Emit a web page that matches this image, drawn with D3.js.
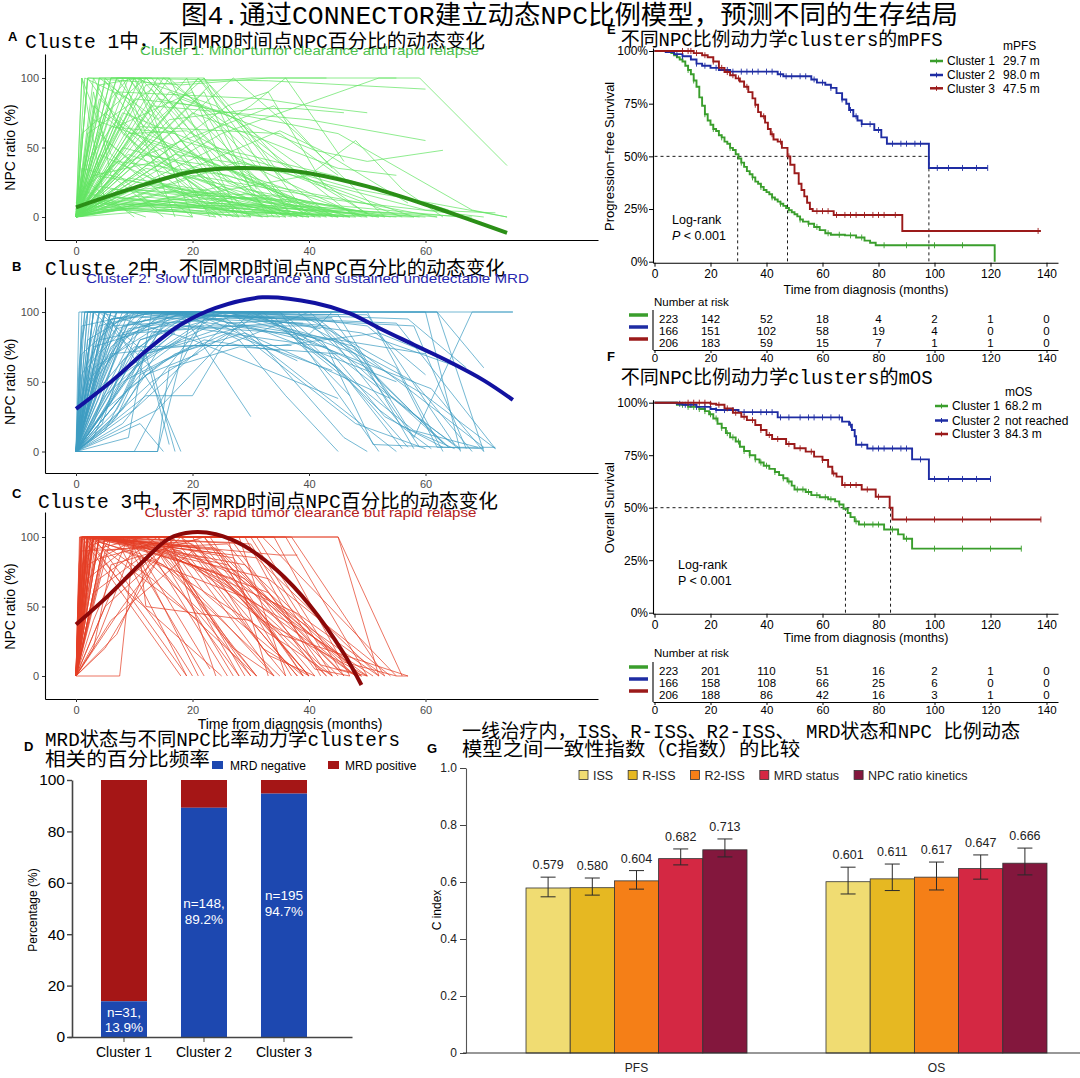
<!DOCTYPE html>
<html><head><meta charset="utf-8">
<script src="https://cdn.jsdelivr.net/npm/d3@7"></script>
<style>body{margin:0;background:#fff}svg{display:block}</style>
</head><body>
<svg id="c" width="1080" height="1078"></svg>
<script>
// ================= DATA =================
const mainTitle = "图4.通过CONNECTOR建立动态NPC比例模型，预测不同的生存结局";
const panelTitles = ["Cluste 1中，不同MRD时间点NPC百分比的动态变化","Cluste 2中，不同MRD时间点NPC百分比的动态变化","Cluste 3中，不同MRD时间点NPC百分比的动态变化"];
const panelSubtitles = ["Cluster 1: Minor tumor clearance and rapid relapse","Cluster 2: Slow tumor clearance and sustained undetectable MRD","Cluster 3: rapid tumor clearance but rapid relapse"];
const spagXTicks = [0,20,40,60];
const spagYTicks = [0,50,100];

// trajectories: flat [t,v,t,v,...] (months, NPC %)
const trajA = [
 [0,0,2,100,10,100,20,0],[0,0,3,100,8,60,25,0],[0,0,5,98,15,40,30,0],[0,0,6,100,22,100,40,0],
 [0,0,1,60,12,100,35,5],[0,5,4,85,18,30,28,0],[0,0,8,100,12,60,45,0],[0,0,10,100,24,80,50,2],
 [0,0,2,100,18,95,33,100,55,100],[0,0,7,90,32,85,40,80,50,75],[0,0,12,95,30,100,43,100],
 [0,0,15,100,38,30,58,0],[0,0,3,70,20,45,44,0],[0,0,5,55,16,20,38,0],[0,10,9,75,26,15,52,0],
 [0,0,11,65,35,60,45,30],[0,0,13,80,40,70,60,55],[0,0,4,45,22,10,40,0],[0,0,6,35,14,5,30,0],
 [0,0,2,25,10,0],[0,0,8,50,30,25,62,0],[0,0,16,90,41,48,50,40,63,48],[0,0,20,75,45,35,55,30],
 [0,0,6,100,33,98,60,92],[0,0,14,85,45,60,68,5,74,0],[0,0,25,60,52,100,59,100,74,37],
 [0,0,18,55,48,20,74,0],[0,0,9,40,34,80,44,35],[0,0,10,100,28,0],[0,0,3,90,6,30,15,0],
 [0,0,5,75,27,0],[0,0,7,65,20,90,33,0],[0,0,12,55,50,0],[0,0,19,100,25,40,36,0],
 [0,0,22,90,30,20,42,0],[0,0,27,100,38,60,53,0],[0,0,30,80,36,100,46,40],[0,0,8,20,20,12,45,0],
 [0,3,10,15,30,8,55,0],[0,0,15,18,40,10,66,0],[0,0,5,12,25,5,48,0],[0,0,2,8,20,3,35,0],
 [0,2,12,25,40,5,60,0],[0,0,6,20,35,15,50,3],[0,0,20,30,45,12,70,0],[0,0,4,15,18,10,30,2],
 [0,0,9,28,24,18,39,0],[0,0,1,100,5,10,12,0],[0,0,1.5,100,9,85,17,0],[0,0,4,100,14,70,22,100,31,20],
 [0,0,11,100,17,30,26,0],[0,0,35,62,42,48,57,10],[0,0,40,30,48,55,56,20,63,0],
 [0,0,16,70,31,78,38,78,46,75],[0,0,3,50,7,100,15,55,23,0],[0,0,13,60,21,100,29,55,37,0],
 [0,0,17,45,34,35,56,0],[0,0,24,50,44,30,64,5],[0,0,28,40,60,5,72,3],[0,0,3,10,15,8,28,0],
 [0,0,7,14,22,6,42,0],[0,0,14,12,32,14,46,0],[0,0,5,5,40,2,58,0],[0,1,18,20,30,10,44,2],
 [0,0,25,22,37,8,52,0],[0,0,10,10,50,4,68,0],[0,0,2,18,8,6,20,0],[0,0,4,95,11,100,19,65,34,0],
 [0,0,6,85,9,100,16,100,27,10],[0,0,2,60,13,92,24,30,41,0],[0,4,7,40,26,30,47,0],
 [0,0,9,60,19,62,31,35,49,0],[0,0,12,35,29,20,54,0],[0,0,1,35,23,12,50,1],[0,0,3,30,33,10,62,0],
 [0,0,1,100,6,45,20,0],[0,0,2,100,12,40,24,0],[0,0,4,100,9,100,21,30,32,0],[0,0,5,100,16,50,29,0],
 [0,0,7,100,13,100,26,25,39,0],[0,0,9,100,19,50,35,0],[0,0,3,80,11,50,27,5],[0,0,6,65,17,60,30,0],
 [0,0,8,75,23,50,40,0],[0,0,10,85,21,80,37,10],[0,0,12,100,25,45,41,0],[0,0,14,100,20,75,34,15,47,0],
 [0,0,16,100,29,50,44,0],[0,0,18,85,28,70,36,25],[0,0,21,100,31,55,48,0],[0,0,23,95,35,40,51,0],
 [0,0,26,80,33,90,43,20],[0,0,2,40,7,70,19,35,36,0],[0,0,4,60,12,30,25,0],[0,0,1,20,9,45,22,25,38,0],
 [0,0,3,30,14,40,28,15,45,0],[0,0,11,45,26,35,43,0],[0,0,6,8,28,6,40,0],[0,1,9,6,35,3,47,0],
 [0,0,13,9,33,5,50,0],[0,0,17,11,27,4,36,0],[0,2,4,22,16,14,32,0],[0,0,19,16,38,12,53,0],
 [0,0,8,12,42,7,59,0],[0,0,21,7,29,17,45,4],[0,0,1,12,11,9,24,0],[0,0,3,16,20,9,33,0],
 [0,0,5,9,31,8,43,0],[0,0,7,18,16,22,37,0],[0,0,10,20,27,11,41,1],[0,0,2,5,24,8,39,2]
];
const trajB = [
 [0,0,1,100,75,100],[0,0,2,100,40,95,55,60,62,3,72,3],[0,0,3,100,30,100,50,60,58,2],
 [0,0,4,100,20,80,45,38],[0,0,5,100,35,100,52,0],[0,0,6,90,25,95,48,20,60,2],
 [0,0,7,100,18,100,30,25],[0,0,8,80,14,95,40,100,70,3],[0,0,9,70,20,100,38,65],
 [0,0,10,60,25,100,42,88],[0,0,11,55,22,80,35,72],[0,0,12,40,20,40,25,75,40,100],
 [0,0,13,50,32,100,47,50,56,2],[0,0,14,0,16,60,28,75,45,70],[0,0,2,30,6,100,50,100,63,0],
 [0,0,3,50,12,100,58,90,67,2],[0,0,1,70,9,100,44,95,54,40,66,1],[0,0,4,60,15,100,30,90,60,70],
 [0,0,5,40,18,90,36,85,61,45,70,0],[0,0,2,80,10,100,27,100,46,10,50,0],
 [0,0,3,20,8,85,19,100,33,85,55,50],[0,0,6,50,24,100,42,80,53,25,63,3],
 [0,0,7,30,16,100,37,92,49,85,66,60],[0,0,8,20,21,88,34,80,43,75,51,5,70,2],
 [0,0,9,10,13,100,25,98,55,0],[0,0,10,30,26,92,41,95,64,3],[0,0,11,20,15,0],
 [0,0,3,100,13,60,17,0],[0,0,5,100,14,40,18,0],[0,0,4,100,12,70,16,5],[0,0,2,100,50,98,65,5],
 [0,0,1,90,12,100,62,100,70,0],[0,0,3,75,22,100,57,95,67,60],[0,0,6,70,20,76,35,76,52,85,62,68],
 [0,0,8,50,20,76,37,76],[0,0,10,85,35,92,47,40],[0,0,12,70,29,90,39,80,44,100],
 [0,0,14,30,30,100,50,90,60,55],[0,0,15,90,40,90,58,50,68,0],[0,0,3,100,45,98,58,10,68,100,75,100],
 [0,0,1,40,5,100,62,100,70,60],[0,0,2,60,9,100,55,92,72,2],[0,0,4,80,26,100,48,75,52,50],
 [0,0,6,100,31,100,45,60,57,3],[0,0,7,100,38,100,62,10,64,3],[0,0,0.5,100,60,100,66,0],
 [0,0,9,100,44,80,60,40,72,2],[0,0,1,20,3,100,35,100,60,20,66,2],[0,0,1.5,100,20,100],
 [0,0,2.5,100,15,100,30,100],[0,0,5,60,10,100,25,95],[0,0,7,50,11,90,23,100],[0,0,8,40,13,85,22,90],
 [0,0,3,40,10,75,24,76],[0,0,14,0,20,100,33,100],[0,0,10,0,22,95,39,92],[0,0,4,25,9,60,17,85],
 [0,0,6,20,12,55,21,70],[0,0,2,45,7,80,16,96],[0,0,1,25,4,70,11,100],[0,0,5,30,15,65,26,85,44,58],
 [0,0,3,60,18,100,28,80,36,40,45,0],[0,0,9,45,17,70,29,85,54,38],
 [0,0,0.5,60,1.5,100,10,100],[0,0,1,80,2,100,12,100],[0,0,2,70,4,100,14,100],[0,0,3,80,5,100,16,100],
 [0,0,4,75,6,100,18,100],[0,0,5,85,7,100,20,100],[0,0,6,80,8,100,22,100],[0,0,1,55,6,95,15,100],
 [0,0,2,30,8,90,18,100],[0,0,4,45,9,92,19,98],[0,0,6,35,11,80,24,96],[0,0,7,25,12,70,26,90],
 [0,0,3,10,7,50,14,88],[0,0,5,15,10,55,18,80],[0,0,8,30,14,72,27,98,44,96],
 [0,0,2,50,11,96,30,98,48,70,59,3],[0,0,4,90,13,100,36,95,52,30,61,2],[0,0,6,95,16,98,41,96,56,18,65,2],
 [0,0,9,88,21,95,34,96,58,15,69,3],[0,0,11,80,23,98,43,90,63,6],[0,0,1.5,40,5,90,13,100],
 [0,0,2.5,35,6,75,12,95],[0,0,3.5,55,7,88,17,100],[0,0,4.5,20,8,65,16,92]
];
const trajC = [
 [0,0,1,100,45,100,52,0],[0,0,1.5,100,20,95,40,0],[0,0,2,100,15,80,35,0],[0,0,2.5,100,10,100,30,0],
 [0,0,3,100,25,90,45,5,50,0],[0,0,1,80,4,100,18,100,38,0],[0,0,2,90,12,100,28,60,40,0],
 [0,0,3,95,8,100,22,0],[0,0,4,100,16,100,24,0],[0,0,5,100,30,100,42,20,48,0],
 [0,0,7.5,0,10,100,26,100,33,0],[0,0,3,60,11,85,12,50,30,40,38,0],[0,0,1.5,100,35,87,38,87],
 [0,0,2,100,32,100,55,0],[0,0,4,70,14,100,35,30,57,0],[0,0,5,50,18,100,45,20,52,0],
 [0,0,6,40,20,90,32,40,50,0],[0,0,2,100,19,0],[0,0,3,100,17,20,20,0],[0,0,1,100,14,90,27,0],
 [0,0,2,100,22,85,44,0],[0,0,3,100,26,80,46,10,55,0,57,0],[0,0,4,100,28,100,36,0],
 [0,0,5,90,21,98,41,0],[0,0,6,100,12,100,34,0],[0,0,1,50,3,100,24,75,43,0],
 [0,0,2,70,8,90,30,55,48,0],[0,0,3,40,9,100,38,45,53,0],[0,0,4,30,10,95,33,60,49,0],
 [0,0,5,20,15,90,40,30,51,0],[0,0,1,100,29,100,42,0],[0,0,2,100,36,100,50,0],
 [0,0,2.5,100,34,100,47,0],[0,0,1.5,100,9,60,25,0],[0,0,3,100,13,70,31,0],
 [0,0,4,100,40,100,45,100,56,0],[0,0,6,60,16,95,22,60,39,0],[0,0,7,30,13,85,37,20,44,0],
 [0,0,8,50,17,100,31,100,46,0],[0,0,1,90,26,95,35,50,48,0],[0,0,2,80,11,100,37,100,53,0],
 [0,0,3,100,23,100,39,0],[0,0,1,100,18,0],[0,0,2,100,21,40,28,0],[0,0,5,100,27,70,50,0],
 [0,0,0.5,60,2,100,15,100,29,0],[0,0,1,70,3,100,20,100,32,20,40,0],[0,0,0.5,30,1.5,100,12,95,26,0],
 [0,0,0.8,100,4,100,16,85,30,0],[0,5,1,100,30,95,44,0],[0,0,1.2,100,24,92,37,0],
 [0,0,2.2,100,27,96,42,8,49,0],[0,0,3.5,100,19,94,33,15,41,0],[0,0,4.5,85,14,96,29,70,45,0],
 [0,0,0.7,100,11,88,23,40,31,0],[0,0,1.8,100,31,85,52,0],[0,0,3,20,6,80,22,100,43,0],
 [0,0,0.3,50,1,100,9,100,21,0],[0,0,0.5,80,1.2,100,13,96,31,0],[0,0,0.8,60,2,100,17,98,36,0],
 [0,0,1,40,2.5,100,25,88,46,0],[0,0,1.3,70,3,100,21,92,40,0],[0,0,1.6,90,3.5,100,29,80,49,0],
 [0,0,2,60,4,100,33,70,54,0],[0,0,2.5,50,5,100,16,90,28,0],[0,0,3,80,6,100,27,85,41,5,47,0],
 [0,0,0.6,100,7,98,19,0],[0,0,1.4,100,10,95,23,5],[0,0,2.8,100,18,90,34,0],[0,0,0.9,100,22,100,39,0],
 [0,0,1.9,100,14,100,27,20,34,0]
];
const smoothA = [[0,7],[10,21],[20,32.5],[28,35.2],[35,34],[40,31.5],[50,22],[60,9],[66,0.5],[74,-11.5]];
const smoothB = [[0,30.5],[6,50],[12,72],[18,91],[24,103],[32,110.5],[41,106.5],[47,99],[52,88.5],[58,76.5],[64,64.5],[70,51],[75,37]];
const smoothC = [[0,37],[5.6,58],[11.4,82],[16,99],[20,103.5],[24,102],[28.7,94],[34.5,76],[40.3,50],[46,16],[49,-6.5]];

// Kaplan-Meier step breakpoints [month, survival %]
const pfs1 = [[0,100],[5,100],[6,99],[7,98],[8,97],[9,96],[10,95],[11,93],[12,91],[13,89],[14,86],[15,83],[16,78],[17,74],[18,70],[19,67],[20,65],[21,63],[22,62],[23,60],[24,59],[25,57],[26,56],[27,54],[28,53],[29,51],[30,49],[31,47],[32,45],[33,43],[34,41.5],[35,40],[36,38],[37,37],[38,35.5],[39,34],[40,33],[41,32],[42,30.5],[43,29.5],[44,28.5],[45,27.5],[46,26.5],[47,25.5],[48,24.5],[49,23.5],[50,22.5],[51,21.5],[52,20],[53,19],[55,18],[57,16.5],[59,15],[61,13.5],[63,12.8],[68,12.5],[72,11.5],[75,10],[77,9],[79,7.8],[121.5,0]];
const pfs2 = [[0,100],[4,99.5],[7,98.5],[10,97.5],[13,96],[15,94],[17,93],[20,92],[23,91],[27,90.2],[44,89],[46,88],[56,86.5],[58,85],[61,84],[63,82.5],[65,80],[67,77],[68.5,75],[69.5,72],[71,69],[72.5,67],[74,65.3],[78.5,62.5],[81,59],[83,56],[98,44.5]];
const pfs3 = [[0,100],[12,100],[14,99],[17,98],[19,97],[21,95],[23,92],[25,90],[27,88.5],[29,87],[30.5,85.5],[32,83],[33.5,80.5],[35,77.5],[36,74.5],[37,71],[38,69],[39.5,66],[40.5,63],[41.5,60.5],[42.5,58],[44,57],[45.5,54],[47.5,50],[48.5,46],[50,42],[51.5,37],[52.5,34],[53.5,31],[54.5,28],[55.5,25],[56.5,24],[64,22.2],[88.5,14.6]];
const pfsEnd = [121.5,119,138];
const pfsCens1 = [12,14,18,21,24,27,31,35,38,42,45,48,52,55,58,62,66,70,74,82,90,100,110];
const pfsCens2 = [8,10,15,18,22,26,28,31,33,35,37,40,42,45,47,49,52,54,57,60,63,67,70,72,74,77,80,85,88,90,93,95,101,105,110,115,119];
const pfsCens3 = [10,12,13,15,18,21,24,26,28,30,33,36,39,42,45,48,58,60,62,65,68,70,72,75,78,80,82,86,137];
const os1 = [[0,100],[5,100],[8,99],[12,98],[16,97],[18,96],[19.5,94.5],[21,92.5],[22.5,90],[24,88],[25.5,85.5],[27,83.5],[29,81.5],[30.5,79],[32,77],[34,75],[36,73],[37.5,71.5],[39,70],[41,68.5],[43,67],[44.5,65.5],[46,64],[47.5,62.5],[49,60.5],[50,58.7],[54,57.5],[56,56],[59,55],[62,54],[64.5,53],[66,51.5],[67.5,49.5],[69,47.5],[70,45.5],[71.5,43.5],[73,42],[82,39.6],[87,37.3],[89,35.2],[92,30.5]];
const os2 = [[0,100],[8,99.5],[10,99],[15,98],[20,97],[22,96.5],[30,95.5],[44,93],[67,91],[69.5,89.5],[70.5,87],[71.5,84],[72,80],[76,78.2],[92,73],[98,63.7]];
const os3 = [[0,100],[15,100],[20,99.5],[22,99],[25,97.3],[28,95.2],[31,93.3],[33,91.7],[36,89.4],[38,87],[40,84.6],[42,82.7],[47,80.3],[50,78.3],[54,76.7],[57,74.3],[60,72.7],[62,69.5],[63.5,66.3],[65,64.8],[67,60.8],[74,58.7],[79,55.2],[84,50],[85,44.4]];
const osEnd = [131,120,138];
const osCens1 = [10,12,14,16,18,20,22,24,26,28,30,32,34,36,38,40,43,46,48,51,53,55,58,61,63,66,72,75,78,80,85,90,100,110,120,131];
const osCens2 = [9,11,13,15,18,22,25,28,32,35,38,40,42,45,48,52,55,57,60,63,66,70,74,78,80,82,85,88,90,95,100,105,110,115,120];
const osCens3 = [12,14,16,18,20,23,26,29,32,35,38,41,44,48,52,56,60,64,68,70,72,76,80,90,100,110,120,138];
const kmTicksX = [0,20,40,60,80,100,120,140];
const kmTicksY = [0,25,50,75,100];
const clusterNames = ["Cluster 1","Cluster 2","Cluster 3"];
const mPFS = [29.7,98.0,47.5];
const mPFSLabels = ["29.7 m","98.0 m","47.5 m"];
const mOS = [68.2,84.3];
const mOSLabels = ["68.2 m","not reached","84.3 m"];
const riskTimes = [0,20,40,60,80,100,120,140];
const riskPFS1 = [223,142,52,18,4,2,1,0];
const riskPFS2 = [166,151,102,58,19,4,0,0];
const riskPFS3 = [206,183,59,15,7,1,1,0];
const riskOS1 = [223,201,110,51,16,2,1,0];
const riskOS2 = [166,158,108,66,25,6,0,0];
const riskOS3 = [206,188,86,42,16,3,1,0];

// Panel D
const dClusters = ["Cluster 1","Cluster 2","Cluster 3"];
const dNegative = [13.9,89.2,94.7];
const dLabels = [["n=31,","13.9%"],["n=148,","89.2%"],["n=195","94.7%"]];
const dTicks = [0,20,40,60,80,100];

// Panel G
const gGroups = ["PFS","OS"];
const gModels = ["ISS","R-ISS","R2-ISS","MRD status","NPC ratio kinetics"];
const gPFS = [0.579,0.580,0.604,0.682,0.713];
const gPFSlo = [0.548,0.554,0.575,0.660,0.688];
const gPFShi = [0.617,0.614,0.640,0.716,0.751];
const gOS = [0.601,0.611,0.617,0.647,0.666];
const gOSlo = [0.558,0.570,0.572,0.610,0.625];
const gOShi = [0.652,0.663,0.670,0.695,0.719];
const gTicks = [0,0.2,0.4,0.6,0.8,1.0];

// ================= DRAW =================
const svg = d3.select("#c");
svg.append("rect").attr("width",1080).attr("height",1078).attr("fill","#fff");
const SANS = "'Liberation Sans', Arial, Helvetica, sans-serif";
const CJK = "'Liberation Mono', 'Noto Sans CJK SC', monospace";

function txt(x,y,s,o={}){
  const t = svg.append("text").attr("x",x).attr("y",y).text(s)
    .attr("font-family",o.family||SANS).attr("font-size",o.size||12).attr("fill",o.fill||"#000");
  if(o.anchor) t.attr("text-anchor",o.anchor);
  if(o.weight) t.attr("font-weight",o.weight);
  if(o.style) t.attr("font-style",o.style);
  if(o.len) t.attr("textLength",o.len).attr("lengthAdjust","spacingAndGlyphs");
  if(o.rot) t.attr("transform",`rotate(-90,${x},${y})`);
  return t;
}
function styleAxis(g,size,fill,tickColor){
  g.attr("font-family",SANS).attr("font-size",size);
  g.selectAll("text").attr("fill",fill);
  g.selectAll(".tick line").attr("stroke",tickColor||"#333");
  g.select(".domain").attr("stroke","#000").attr("stroke-width",1.1);
}
const toPts = a => { const p=[]; for(let i=0;i<a.length;i+=2) p.push([a[i],a[i+1]]); return p; };

// main title
txt(181,24,mainTitle,{family:CJK,size:26,len:777});

// ---------- spaghetti panels ----------
function spag(p){
  const x0=76, k=116.5/20;
  const x = d3.scaleLinear().domain([(45-x0)/k,(598-x0)/k]).range([45,598]);
  const yb = d3.scaleLinear().domain([0,100]).range([p.y0,p.y100]);
  const y = d3.scaleLinear().domain([yb.invert(p.yB),yb.invert(p.yT)]).range([p.yB,p.yT]);
  const line = d3.line().x(d=>x(d[0])).y(d=>y(d[1]));
  const g = svg.append("g");
  p.traj.forEach(a=>g.append("path").attr("d",line(toPts(a))).attr("fill","none")
     .attr("stroke",p.col).attr("stroke-width",0.85).attr("stroke-opacity",0.85));
  const sm = d3.line().curve(d3.curveCatmullRom).x(d=>x(d[0])).y(d=>y(d[1]));
  svg.append("path").attr("d",sm(p.smooth)).attr("fill","none").attr("stroke",p.scol).attr("stroke-width",4).attr("stroke-linecap","butt");
  const ax = svg.append("g").attr("transform",`translate(0,${p.yB})`)
    .call(d3.axisBottom(x).tickValues(spagXTicks).tickSize(3).tickSizeOuter(0).tickPadding(4));
  styleAxis(ax,11,"#4d4d4d");
  const ay = svg.append("g").attr("transform",`translate(45,0)`)
    .call(d3.axisLeft(y).tickValues(spagYTicks).tickSize(3).tickSizeOuter(0).tickPadding(3));
  styleAxis(ay,11,"#4d4d4d");
  txt(15,(p.y0+p.y100)/2,"NPC ratio (%)",{size:14,anchor:"middle",rot:true});
  txt(p.lx,p.lb,p.letter,{size:13,weight:"bold"});
  txt(p.tx,p.tb,p.title,{family:CJK,size:19.5,len:460});
  txt(p.sx,p.sb,p.sub,{size:13,fill:p.subcol,len:p.slen});
}
spag({traj:trajA,smooth:smoothA,col:"#63e463",scol:"#2b8f17",y0:217,y100:78,yB:240,yT:54,
  letter:"A",lx:8,lb:41,title:panelTitles[0],tx:25,tb:47.5,sub:panelSubtitles[0],sx:140,sb:55,slen:339,subcol:"#4cbf4c"});
spag({traj:trajB,smooth:smoothB,col:"#3d9cc2",scol:"#1212a0",y0:451.5,y100:312,yB:473,yT:287,
  letter:"B",lx:12,lb:270.5,title:panelTitles[1],tx:45,tb:275,sub:panelSubtitles[1],sx:86,sb:283,slen:443,subcol:"#2828b0"});
spag({traj:trajC,smooth:smoothC,col:"#e43d24",scol:"#8c0808",y0:676,y100:537,yB:699,yT:512,
  letter:"C",lx:12,lb:497.7,title:panelTitles[2],tx:38,tb:507.5,sub:panelSubtitles[2],sx:144.5,sb:516.5,slen:332,subcol:"#b52020"});
txt(290,729,"Time from diagnosis (months)",{size:14,anchor:"middle"});

// ---------- KM panels ----------
const kmCols = ["#3a9e2c","#1e2ca3","#9b1a1a"];
function survAt(pts,t){ let s=pts[0][1]; for(const q of pts){ if(q[0]<=t) s=q[1]; else break; } return s; }
function km(p){
  const x = d3.scaleLinear().domain([0,140]).range([654.5,1046.5]);
  const xe = d3.scaleLinear().domain([x.invert(653),x.invert(1058)]).range([653,1058]);
  const yb = d3.scaleLinear().domain([0,100]).range([p.y0,p.y100]);
  const ye = d3.scaleLinear().domain([yb.invert(p.y0+1),yb.invert(p.y100-3)]).range([p.y0+1,p.y100-3]);
  const hx = x(d3.max(p.med));
  svg.append("line").attr("x1",x(0)).attr("x2",hx).attr("y1",yb(50)).attr("y2",yb(50))
    .attr("stroke","#000").attr("stroke-width",0.9).attr("stroke-dasharray","3,3");
  p.med.forEach(m=>svg.append("line").attr("x1",x(m)).attr("x2",x(m)).attr("y1",yb(50)).attr("y2",yb(0))
    .attr("stroke","#000").attr("stroke-width",0.9).attr("stroke-dasharray","3,3"));
  const step = d3.line().curve(d3.curveStepAfter).x(d=>x(d[0])).y(d=>yb(d[1]));
  p.curves.forEach((c,i)=>{
    const pts = c.slice(); pts.push([p.end[i],pts[pts.length-1][1]]);
    svg.append("path").attr("d",step(pts)).attr("fill","none").attr("stroke",kmCols[i]).attr("stroke-width",1.9);
    p.cens[i].forEach(t=>{ const s=survAt(c,t);
      svg.append("line").attr("x1",x(t)).attr("x2",x(t)).attr("y1",yb(s)-3).attr("y2",yb(s)+3)
        .attr("stroke",kmCols[i]).attr("stroke-width",0.9); });
  });
  const ax = svg.append("g").attr("transform",`translate(0,${p.y0+1})`)
    .call(d3.axisBottom(xe).tickValues(kmTicksX).tickSize(4).tickSizeOuter(0).tickPadding(3));
  styleAxis(ax,12,"#000","#000");
  const ay = svg.append("g").attr("transform",`translate(653,0)`)
    .call(d3.axisLeft(ye).tickValues(kmTicksY).tickFormat(d=>d+"%").tickSize(4).tickSizeOuter(0).tickPadding(1));
  styleAxis(ay,12,"#000","#000");
  txt(614,(p.y0+p.y100)/2,p.ylab,{size:13,anchor:"middle",rot:true});
  txt(p.legVx,p.legY0+4.5,p.legHead,{size:12});
  clusterNames.forEach((n,i)=>{
    const yy = p.legY[i];
    svg.append("line").attr("x1",p.legLx).attr("x2",p.legLx+13).attr("y1",yy).attr("y2",yy).attr("stroke",kmCols[i]).attr("stroke-width",2.5);
    svg.append("line").attr("x1",p.legLx+6.5).attr("x2",p.legLx+6.5).attr("y1",yy-2.5).attr("y2",yy+2.5).attr("stroke",kmCols[i]).attr("stroke-width",1);
    txt(p.legLx+17,yy+4.3,n,{size:12});
    txt(p.legVx,yy+4.3,p.legVals[i],{size:12});
  });
  txt(p.lrx,p.lry,"Log-rank",{size:12.5});
  if(p.italicP){
    const t = txt(p.lrx,p.lry+16,"",{size:12.5});
    t.append("tspan").attr("font-style","italic").text("P");
    t.append("tspan").text(" < 0.001");
  } else txt(p.lrx,p.lry+16,"P < 0.001",{size:12.5});
  txt(607,p.letterB,p.letter,{size:13,weight:"bold"});
  txt(620.7,p.titleB,p.title,{family:CJK,size:19.5,len:p.titleLen});
  txt(866,p.xtB,"Time from diagnosis (months)",{size:12.5,anchor:"middle"});
  txt(654,p.nrB,"Number at risk",{size:11.5});
  svg.append("line").attr("x1",653).attr("x2",653).attr("y1",p.rows[0]-9).attr("y2",p.rtAxis).attr("stroke","#000").attr("stroke-width",1.1);
  p.risk.forEach((r,i)=>{
    svg.append("line").attr("x1",629).attr("x2",648).attr("y1",p.rows[i]-4).attr("y2",p.rows[i]-4).attr("stroke",kmCols[i]).attr("stroke-width",3.5);
    r.forEach((v,j)=>{
      if(j===0) txt(659,p.rows[i]+4,v,{size:11.5});
      else txt(x(riskTimes[j]),p.rows[i]+4,v,{size:11.5,anchor:"middle"});
    });
  });
  const rx = svg.append("g").attr("transform",`translate(0,${p.rtAxis})`)
    .call(d3.axisBottom(xe).tickValues(kmTicksX).tickSize(3).tickSizeOuter(0).tickPadding(1));
  styleAxis(rx,11.5,"#000","#000");
}
km({y0:261.7,y100:51,med:mPFS,curves:[pfs1,pfs2,pfs3],end:pfsEnd,cens:[pfsCens1,pfsCens2,pfsCens3],
  ylab:"Progression\u2212free Survival",legHead:"mPFS",legVals:mPFSLabels,legY0:45,legY:[61,75,88.3],legLx:930,legVx:1003,
  lrx:672,lry:223.5,italicP:true,letter:"E",letterB:34,title:"不同NPC比例动力学clusters的mPFS",titleB:45.5,titleLen:322,
  xtB:293.5,nrB:306,rows:[319,331,343],risk:[riskPFS1,riskPFS2,riskPFS3],rtAxis:350});
km({y0:612.7,y100:402.7,med:mOS,curves:[os1,os2,os3],end:osEnd,cens:[osCens1,osCens2,osCens3],
  ylab:"Overall Survival",legHead:"mOS",legVals:mOSLabels,legY0:391,legY:[406,420.5,434],legLx:935,legVx:1005,
  lrx:678,lry:568.5,italicP:false,letter:"F",letterB:361,title:"不同NPC比例动力学clusters的mOS",titleB:384,titleLen:312,
  xtB:641.5,nrB:657,rows:[671,683,695],risk:[riskOS1,riskOS2,riskOS3],rtAxis:702});

// ---------- Panel D ----------
(function(){
  const x = d3.scaleBand().domain(dClusters).range([68,352]).paddingInner(0.425).paddingOuter(0.4875).align(0.423);
  const y = d3.scaleLinear().domain([0,100]).range([1037,780]);
  const blue="#1d48b0", red="#a51616";
  dClusters.forEach((c,i)=>{
    svg.append("rect").attr("x",x(c)).attr("width",x.bandwidth()).attr("y",y(100)).attr("height",y(dNegative[i])-y(100)).attr("fill",red);
    svg.append("rect").attr("x",x(c)).attr("width",x.bandwidth()).attr("y",y(dNegative[i])).attr("height",y(0)-y(dNegative[i])).attr("fill",blue);
  });
  const lblY = [[1017,1032],[908,924],[900,916]];
  dClusters.forEach((c,i)=>{
    const cx = x(c)+x.bandwidth()/2;
    txt(cx,lblY[i][0],dLabels[i][0],{size:13.5,fill:"#fff",anchor:"middle"});
    txt(cx,lblY[i][1],dLabels[i][1],{size:13.5,fill:"#fff",anchor:"middle"});
  });
  const ax = svg.append("g").attr("transform","translate(0,1037)")
    .call(d3.axisBottom(x).tickSize(5).tickSizeOuter(0).tickPadding(5));
  styleAxis(ax,14,"#000","#444");
  ax.select(".domain").attr("stroke","#444").attr("stroke-width",1.6);
  const ay = svg.append("g").attr("transform","translate(72,0)")
    .call(d3.axisLeft(y).tickValues(dTicks).tickSize(5).tickSizeOuter(0).tickPadding(2));
  styleAxis(ay,15.5,"#000","#444");
  ay.select(".domain").attr("stroke","#444").attr("stroke-width",1.6);
  ay.selectAll(".tick line").attr("stroke-width",1.4);
  txt(37,910,"Percentage (%)",{size:12,anchor:"middle",rot:true});
  txt(24,751,"D",{size:13,weight:"bold"});
  txt(45,745.5,"MRD状态与不同NPC比率动力学clusters",{family:CJK,size:19.5,len:355});
  txt(45,765.5,"相关的百分比频率",{family:CJK,size:19.5,len:165});
  svg.append("rect").attr("x",212).attr("y",761).attr("width",11).attr("height",8).attr("fill",blue);
  txt(230,770,"MRD negative",{size:12});
  svg.append("rect").attr("x",328).attr("y",761).attr("width",11).attr("height",8).attr("fill",red);
  txt(345,770,"MRD positive",{size:12});
})();

// ---------- Panel G ----------
(function(){
  const gCols = ["#f0dc72","#e6b822","#f57f17","#d42843","#83173d"];
  const x0 = d3.scaleBand().domain(gGroups).range([486.5,1086.5]).paddingInner(0.2633).paddingOuter(0.1317);
  const x1 = d3.scaleBand().domain(gModels).range([0,x0.bandwidth()]);
  const y = d3.scaleLinear().domain([0,1]).range([1053,768]);
  const vals = {PFS:[gPFS,gPFSlo,gPFShi], OS:[gOS,gOSlo,gOShi]};
  gGroups.forEach(gr=>{
    const [v,lo,hi] = vals[gr];
    gModels.forEach((m,i)=>{
      const bx = x0(gr)+x1(m);
      svg.append("rect").attr("x",bx).attr("width",x1.bandwidth()).attr("y",y(v[i])).attr("height",y(0)-y(v[i]))
        .attr("fill",gCols[i]).attr("stroke","#333").attr("stroke-width",0.8);
      const cx = bx+x1.bandwidth()/2;
      const ec = "#2a2a2a";
      svg.append("line").attr("x1",cx).attr("x2",cx).attr("y1",y(lo[i])).attr("y2",y(hi[i])).attr("stroke",ec).attr("stroke-width",1);
      [lo[i],hi[i]].forEach(e=>svg.append("line").attr("x1",cx-7.5).attr("x2",cx+7.5).attr("y1",y(e)).attr("y2",y(e)).attr("stroke",ec).attr("stroke-width",1));
      txt(cx,y(hi[i])-8,v[i].toFixed(3),{size:12.5,anchor:"middle",fill:"#222"});
    });
  });
  const ay = svg.append("g").attr("transform","translate(466,0)")
    .call(d3.axisLeft(y).tickValues(gTicks).tickFormat(d=>d===0?"0":d.toFixed(1)).tickSize(6).tickSizeOuter(0).tickPadding(3));
  styleAxis(ay,12,"#222","#444");
  ay.select(".domain").attr("stroke","#555");
  const ax = svg.append("g").attr("transform","translate(0,1053)").call(d3.axisBottom(x0).tickSize(0).tickPadding(10));
  styleAxis(ax,12,"#222");
  ax.select(".domain").remove();
  svg.append("line").attr("x1",463).attr("x2",1080).attr("y1",1053).attr("y2",1053).attr("stroke","#333").attr("stroke-width",1.2);
  txt(441,910,"C index",{size:12,anchor:"middle",rot:true});
  txt(427,752.7,"G",{size:13,weight:"bold"});
  txt(462,737.5,"一线治疗内，ISS、R-ISS、R2-ISS、 MRD状态和NPC 比例动态",{family:CJK,size:19.5,len:558});
  txt(462,755.5,"模型之间一致性指数（C指数）的比较",{family:CJK,size:19.5,len:338});
  let lx = 579;
  gModels.forEach((m,i)=>{
    svg.append("rect").attr("x",lx).attr("y",770.5).attr("width",9).attr("height",9).attr("fill",gCols[i]).attr("stroke","#333").attr("stroke-width",0.8);
    const t = txt(lx+14,779.5,m,{size:12.5,fill:"#222"});
    lx += 14 + t.node().getComputedTextLength() + 15;
  });
})();
</script>
</body></html>
